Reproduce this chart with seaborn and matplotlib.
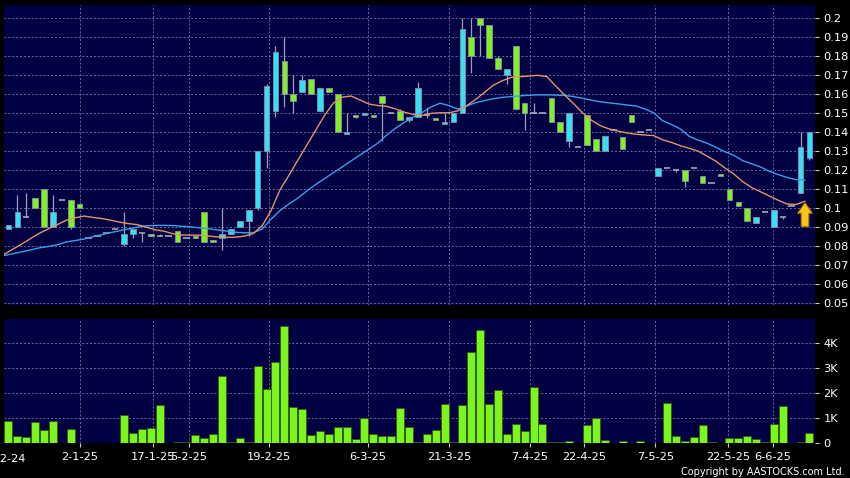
import numpy as np
import pandas as pd
import seaborn as sns
import matplotlib.pyplot as plt
import matplotlib.patches as mpatches

# daily candles (price in HKD), index = trading day on chart
opens = [.089, .090, .095, .105, .110, .090, .104, .104, .102, .084,
         .085, .087, .089, .081, .086, .087, .086, .085, .085, .088,
         .084, .085, .098, .083, .084, .086, .090, .093, .100, .130,
         .151, .177, .160, .161, .168, .151, .163, .160, .139, .149,
         .149, .149, .159, .150, .151, .146, .148, .149, .147, .144,
         .145, .150, .190, .200, .196, .179, .170, .185, .155, .150,
         .150, .158, .145, .135, .132, .149, .136, .130, .141, .137,
         .149, .140, .141, .117, .121, .120, .120, .121, .117, .113,
         .118, .110, .103, .100, .092, .098, .090, .095, .101, .108,
         .126]
closes = [.091, .098, .095, .100, .090, .098, .104, .090, .100, .084,
          .085, .087, .089, .086, .089, .087, .085, .085, .085, .082,
          .084, .084, .082, .082, .086, .089, .093, .099, .130, .164,
          .182, .160, .156, .167, .160, .163, .161, .140, .140, .148,
          .150, .148, .155, .150, .146, .148, .163, .149, .146, .145,
          .150, .194, .180, .196, .179, .173, .173, .152, .150, .150,
          .150, .145, .140, .150, .132, .133, .130, .138, .141, .131,
          .145, .140, .141, .121, .121, .120, .114, .121, .113, .113,
          .117, .104, .101, .093, .095, .098, .099, .095, .101, .132,
          .140]
highs = [.091, .107, .108, .105, .110, .107, .104, .104, .102, .084,
         .085, .087, .089, .098, .089, .087, .086, .086, .085, .088,
         .084, .085, .098, .083, .100, .089, .093, .099, .130, .165,
         .185, .190, .170, .170, .168, .163, .163, .160, .150, .149,
         .150, .149, .159, .150, .152, .148, .166, .153, .147, .150,
         .150, .200, .200, .200, .196, .180, .173, .185, .155, .155,
         .150, .158, .145, .150, .132, .149, .136, .138, .141, .137,
         .149, .140, .141, .121, .121, .120, .120, .121, .117, .113,
         .118, .110, .103, .100, .095, .098, .099, .095, .101, .140,
         .140]
lows = [.089, .090, .095, .100, .090, .090, .104, .089, .100, .084,
        .085, .087, .089, .080, .084, .082, .085, .085, .085, .082,
        .084, .084, .082, .082, .078, .086, .090, .085, .099, .121,
        .148, .153, .150, .161, .160, .151, .161, .140, .139, .147,
        .149, .148, .135, .150, .146, .145, .148, .147, .146, .144,
        .145, .150, .171, .180, .179, .173, .165, .152, .141, .150,
        .150, .145, .140, .132, .132, .133, .130, .130, .141, .131,
        .145, .140, .141, .117, .121, .119, .111, .121, .113, .113,
        .117, .104, .101, .093, .092, .098, .090, .094, .101, .108,
        .125]
# volume in thousands of shares
volumes = [0.90, 0.30, 0.24, 0.85, 0.53, 0.88, 0.00, 0.57, 0.00, 0.00,
           0.03, 0.00, 0.03, 1.12, 0.40, 0.57, 0.60, 1.53, 0.00, 0.07,
           0.07, 0.33, 0.20, 0.35, 2.67, 0.07, 0.20, 0.06, 3.07, 2.15,
           3.24, 4.68, 1.45, 1.36, 0.33, 0.50, 0.38, 0.65, 0.64, 0.19,
           0.99, 0.38, 0.28, 0.30, 1.40, 0.66, 0.06, 0.37, 0.53, 1.56,
           0.06, 1.52, 3.64, 4.50, 1.58, 2.12, 0.37, 0.77, 0.49, 2.23,
           0.77, 0.05, 0.05, 0.08, 0.02, 0.71, 0.99, 0.13, 0.00, 0.08,
           0.00, 0.11, 0.00, 0.00, 1.60, 0.30, 0.10, 0.24, 0.71, 0.05,
           0.00, 0.20, 0.20, 0.29, 0.19, 0.04, 0.78, 1.48, 0.00, 0.04,
           0.41]
# moving averages (short = orange, long = blue)
ma_short = [.0755, .0783, .0810, .0839, .0867, .0890, .0912, .0935, .0948, .0957,
            .0950, .0944, .0935, .0925, .0917, .0912, .0898, .0885, .0877, .0864,
            .0857, .0857, .0856, .0852, .0847, .0845, .0846, .0851, .0865, .0905,
            .0985, .1094, .1170, .1250, .1328, .1406, .1485, .1550, .1582, .1588,
            .1567, .1546, .1538, .1534, .1520, .1503, .1491, .1486, .1497, .1500,
            .1500, .1510, .1538, .1570, .1608, .1645, .1669, .1686, .1690, .1693,
            .1697, .1690, .1640, .1593, .1548, .1500, .1461, .1432, .1415, .1403,
            .1394, .1387, .1383, .1380, .1358, .1344, .1327, .1313, .1298, .1272,
            .1245, .1210, .1178, .1138, .1107, .1085, .1062, .1040, .1020, .1018,
            .1035]
ma_long = [.0749, .0759, .0769, .0779, .0790, .0797, .0806, .0821, .0828, .0836,
           .0849, .0859, .0870, .0880, .0889, .0899, .0906, .0908, .0908, .0907,
           .0903, .0900, .0895, .0890, .0884, .0878, .0872, .0869, .0869, .0888,
           .0940, .0985, .1020, .1051, .1088, .1122, .1153, .1185, .1215, .1247,
           .1278, .1309, .1340, .1383, .1419, .1450, .1478, .1502, .1531, .1550,
           .1538, .1519, .1536, .1553, .1564, .1574, .1581, .1585, .1589, .1592,
           .1594, .1594, .1593, .1591, .1585, .1576, .1566, .1558, .1552, .1547,
           .1541, .1536, .1520, .1500, .1458, .1438, .1415, .1376, .1356, .1340,
           .1318, .1295, .1276, .1248, .1232, .1215, .1192, .1175, .1160, .1148,
           .1145]

date_labels = ["2-1-25", "17-1-25", "5-2-25", "19-2-25", "6-3-25", "21-3-25",
               "7-4-25", "22-4-25", "7-5-25", "22-5-25", "6-6-25"]
date_pos = [8.0, 16.2, 20.3, 29.3, 40.4, 49.5, 58.6, 64.7, 72.7, 80.9, 85.9]
first_label = "18-12-24"

UP = "#33e2f2"
DOWN = "#7ff022"
DOJI = "#b4b4c8"
WICK = "#a0a0b4"
BG = "#000042"
GRID = "#6a6a9c"
TXT = "white"

sns.set_style("dark")
plt.rcParams["font.family"] = ["DejaVu Sans"]

df = pd.DataFrame({"o": opens, "h": highs, "l": lows, "c": closes,
                   "vol": volumes, "ma_s": ma_short, "ma_l": ma_long})
df["idx"] = np.arange(len(df))

fig = plt.figure(figsize=(8.5, 4.78), dpi=100, facecolor="black")
axp = fig.add_axes([0.0047, 0.361, 0.9541, 0.6275])
axv = fig.add_axes([0.0047, 0.0726, 0.9541, 0.2600])

for ax in (axp, axv):
    ax.set_facecolor(BG)
    for s in ax.spines.values():
        s.set_visible(False)

# ---- price panel
up = df[df.c > df.o]
dn = df[df.c < df.o]
eq = df[df.c == df.o]
wk = df[df.h > df.l]
axp.vlines(wk.idx, wk.l, wk.h, color=WICK, lw=0.9, zorder=2)
axp.bar(up.idx, up.c - up.o, bottom=up.o, width=0.62, color=UP,
        edgecolor="#8c8ca8", linewidth=0.6, zorder=3)
axp.bar(dn.idx, dn.o - dn.c, bottom=dn.c, width=0.62, color=DOWN,
        edgecolor="#8c8ca8", linewidth=0.6, zorder=3)
axp.hlines(eq.o, eq.idx - 0.36, eq.idx + 0.36, color=DOJI, lw=1.1, zorder=3)

sns.lineplot(x=df.idx - 0.5, y=df.ma_l, ax=axp, color="#3b9fe6", lw=1.0,
             legend=False, zorder=4)
sns.lineplot(x=df.idx - 0.5, y=df.ma_s, ax=axp, color="#e5936a", lw=1.0,
             legend=False, zorder=5)

# yellow signal arrow under the last bar, tip at the short MA
ax_x = df.idx.iloc[-1] - 0.5
tip = df.ma_s.iloc[-1] - 0.0008
arrow = mpatches.FancyArrow(ax_x, tip - 0.0125, 0, 0.0125, width=0.85,
                            head_width=1.65, head_length=0.0055,
                            length_includes_head=True, fc="#f7c51c",
                            ec="#b07a00", lw=0.8, zorder=6)
axp.add_patch(arrow)

yt = np.round(np.arange(0.05, 0.2001, 0.01), 2)
axp.set_yticks(yt)
axp.set_yticklabels([f"{v:g}" for v in yt])
axp.set_ylim(0.0487, 0.2064)
axp.set_xlim(-0.5, 90.62)
axp.set_xticks(date_pos)
axp.tick_params(axis="x", bottom=False, labelbottom=False)
axp.yaxis.tick_right()
axp.tick_params(axis="y", right=True, left=False, length=3, width=0.8,
                color="#c8c8c8", labelcolor=TXT, labelsize=8.2, pad=3)
axp.grid(True, color=GRID, lw=0.7, linestyle=(0, (2, 2)))
axp.set_xlabel("")
axp.set_ylabel("")

# ---- volume panel
sns.barplot(x=df.idx, y=df.vol, ax=axv, color="#7cf51e", saturation=1,
            width=0.9, edgecolor="#2f5a12", linewidth=0.6, errorbar=None,
            zorder=3)
axv.set_xlim(-0.5, 90.62)
axv.set_ylim(0, 4.94)
axv.set_yticks([0, 1, 2, 3, 4])
axv.set_yticklabels(["0", "1K", "2K", "3K", "4K"])
axv.set_xticks(date_pos)
axv.set_xticklabels(date_labels)
axv.yaxis.tick_right()
axv.tick_params(axis="y", right=True, left=False, length=3, width=0.8,
                color="#c8c8c8", labelcolor=TXT, labelsize=8.2, pad=3)
axv.tick_params(axis="x", bottom=True, length=3, width=0.8, color="#c8c8c8",
                labelcolor=TXT, labelsize=8.2, pad=3)
axv.grid(True, color=GRID, lw=0.7, linestyle=(0, (2, 2)))
axv.set_xlabel("")
axv.set_ylabel("")
axv.text(-0.85, -0.09, first_label, transform=axv.get_xaxis_transform(),
         ha="center", va="top", color=TXT, fontsize=8.2, clip_on=False)

fig.text(0.994, 0.0135, "Copyright by AASTOCKS.com Ltd.", ha="right",
         va="center", color=TXT, fontsize=7)

fig.savefig("out.png", dpi=100, facecolor="black")
